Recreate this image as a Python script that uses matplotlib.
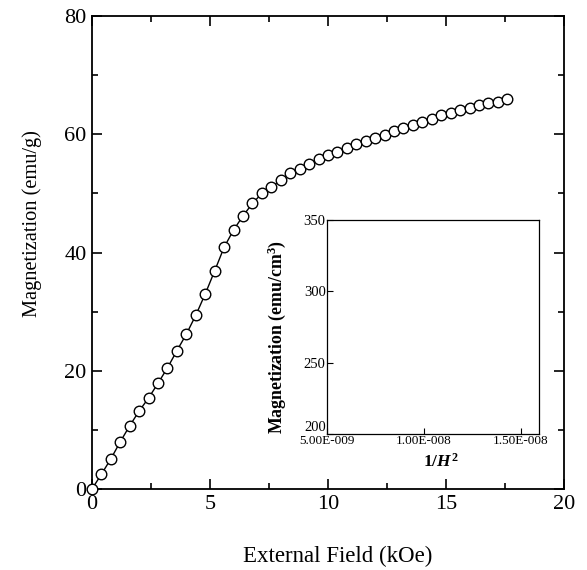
import matplotlib
matplotlib.use("Agg")
import matplotlib.pyplot as plt
from matplotlib.ticker import MultipleLocator, FixedLocator

plt.rcParams['font.family'] = ['Liberation Serif', 'DejaVu Serif']
plt.rcParams['mathtext.fontset'] = 'custom'
plt.rcParams['mathtext.rm'] = 'Liberation Serif'
plt.rcParams['mathtext.it'] = 'Liberation Serif:italic:bold'
plt.rcParams['mathtext.bf'] = 'Liberation Serif:bold'

# dane: pole zewnętrzne (kOe) i magnetyzacja (emu/g)
field = [0.0, 0.4, 0.8, 1.2, 1.6, 2.0, 2.4, 2.8, 3.2, 3.6, 4.0, 4.4, 4.8,
         5.2, 5.6, 6.0, 6.4, 6.8, 7.2, 7.6, 8.0, 8.4, 8.8, 9.2, 9.6, 10.0,
         10.4, 10.8, 11.2, 11.6, 12.0, 12.4, 12.8, 13.2, 13.6, 14.0, 14.4,
         14.8, 15.2, 15.6, 16.0, 16.4, 16.8, 17.2, 17.6]
magnet = [0.0, 2.5, 5.1, 8.0, 10.7, 13.2, 15.4, 17.9, 20.5, 23.4, 26.2, 29.4, 33.0,
          36.9, 40.9, 43.8, 46.2, 48.3, 50.0, 51.0, 52.3, 53.4, 54.1, 55.0, 55.8, 56.5,
          57.0, 57.7, 58.3, 58.8, 59.3, 59.9, 60.5, 61.1, 61.6, 62.1, 62.6,
          63.2, 63.6, 64.1, 64.5, 64.9, 65.3, 65.5, 65.9]

x_ticks = [0, 5, 10, 15, 20]
y_ticks = [0, 20, 40, 60, 80]
inset_x_ticks = [5e-9, 1e-8, 1.5e-8]
inset_x_labels = ["5.00E-009", "1.00E-008", "1.50E-008"]
inset_y_ticks = [200, 250, 300, 350]
inset_y_labels = ["200", "250", "300", "350"]

fig = plt.figure(figsize=(5.87, 5.70), dpi=100)
ax = fig.add_axes([0.1567, 0.1421, 0.804, 0.8298])

ax.plot(field, magnet, '-', color='black', lw=1.0, marker='o', ms=7.6,
        mfc='white', mec='black', mew=1.0, clip_on=False, zorder=3)

ax.set_xlim(0, 20)
ax.set_ylim(0, 80)
ax.set_xticks(x_ticks)
ax.set_yticks(y_ticks)
ax.xaxis.set_minor_locator(MultipleLocator(2.5))
ax.yaxis.set_minor_locator(MultipleLocator(10))
ax.tick_params(which='both', direction='in', top=True, right=True, labelsize=16, width=1.2)
ax.tick_params(which='major', length=7, pad=4)
ax.tick_params(which='minor', length=4)
for s in ax.spines.values():
    s.set_linewidth(1.3)

# podpisy osi
fig.text(338 / 587, 1 - 556 / 570, "External Field (kOe)", fontsize=16.5,
         ha='center', va='center')
fig.text(32 / 587, 1 - 224 / 570, "Magnetization (emu/g)", fontsize=14.7,
         rotation=90, ha='center', va='center')

# wstawka
ins = fig.add_axes([0.5571, 0.2386, 0.3612, 0.3754])
ins.set_xlim(5e-9, 1.593e-8)
ins.set_ylim(200, 350)
ins.xaxis.set_major_locator(FixedLocator(inset_x_ticks))
ins.set_xticklabels(inset_x_labels, fontsize=9.5)
ins.set_yticks(inset_y_ticks)
ins.set_yticklabels(inset_y_labels, fontsize=10.5)
ins.get_yticklabels()[0].set_va('bottom')
ins.tick_params(which='both', direction='in', length=4, width=0.8, pad=1)
for s in ins.spines.values():
    s.set_linewidth(0.9)
fig.text(277 / 587, 1 - 337 / 570, "Magnetization (emu/cm$^{\\mathbf{3}}$)",
         fontsize=12.8, fontweight='bold', rotation=90, ha='center', va='center')
fig.text(441 / 587, 1 - 462 / 570, "1/$H^{\\mathbf{2}}$", fontsize=12.5,
         fontweight='bold', ha='center', va='center')

fig.savefig("out.png", dpi=100)
